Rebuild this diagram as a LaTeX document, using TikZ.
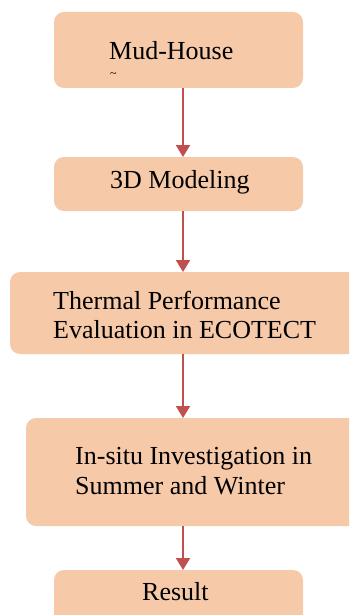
\documentclass[tikz,border=0pt]{standalone}
\usepackage{fontspec}
\setmainfont{Liberation Serif}
\usetikzlibrary{arrows.meta}
\definecolor{boxfill}{HTML}{F6C9A9}
\definecolor{arrowred}{HTML}{C0504D}
\tikzset{
  box/.style={draw=none, fill=boxfill, rounded corners=10pt},
  lbl/.style={anchor=base west, inner sep=0pt, font=\fontsize{26}{30}\selectfont, text=black},
  flow/.style={draw=arrowred, line width=2pt, -{Triangle[width=14pt,length=12pt]}}
}
\begin{document}
\begin{tikzpicture}[x=1pt,y=-1pt]
\useasboundingbox (0,0) rectangle (349,615);
\clip (0,0) rectangle (349,615);
\path[box] (54,12) rectangle (303,88);
\coordinate (b1s) at (183,88);
\path[box] (54,157) rectangle (303,211);
\coordinate (b2n) at (183,157);
\coordinate (b2s) at (183,211);
\path[box] (10,272) rectangle (370,354);
\coordinate (b3n) at (183,272);
\coordinate (b3s) at (183,354);
\path[box] (26,418) rectangle (370,526);
\coordinate (b4n) at (183,418);
\coordinate (b4s) at (183,526);
\path[box] (54,570) rectangle (303,640);
\coordinate (b5n) at (183,570);
\node[lbl] (t1) at (109,60) {Mud-House};
\node[lbl, font=\fontsize{12}{14}\selectfont] (t1b) at (110,78) {\textasciitilde};
\node[lbl] (t2) at (110,188) {3D Modeling};
\node[lbl] (t3a) at (53,309) {Thermal Performance};
\node[lbl] (t3b) at (53,338) {Evaluation in ECOTECT};
\node[lbl] (t4a) at (75,464) {In-situ Investigation in};
\node[lbl] (t4b) at (75,494) {Summer and Winter};
\node[lbl] (t5) at (142,600) {Result};
\draw[flow] (b1s) -- (b2n);
\draw[flow] (b2s) -- (b3n);
\draw[flow] (b3s) -- (b4n);
\draw[flow] (b4s) -- (b5n);
\end{tikzpicture}
\end{document}
